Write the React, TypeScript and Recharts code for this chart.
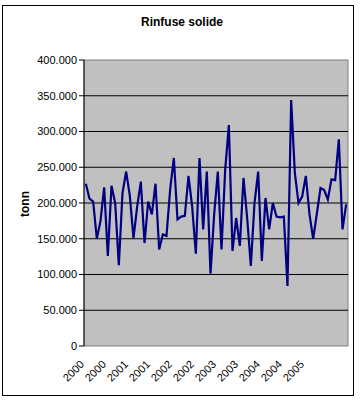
import React from 'react'
import { LineChart, Line, XAxis, YAxis, ReferenceArea, ReferenceLine } from 'recharts'

// ── Data ─────────────────────────────────────────────────────────────────────

const years = ['2000', '2001', '2002', '2003', '2004', '2005']

// monthly tonnage, Jan 2000 – Dec 2005 (thousands)
const values = [
  227, 206, 202, 150, 175, 222, 126, 224, 200, 113, 214, 244,
  210, 151, 195, 230, 144, 202, 184, 227, 135, 156, 154, 219,
  263, 177, 181, 182, 238, 195, 129, 263, 163, 244, 101, 184,
  244, 135, 246, 309, 133, 179, 140, 235, 179, 112, 200, 244,
  119, 207, 163, 200, 181, 180, 181, 84, 344, 242, 200, 209,
  238, 184, 150, 185, 221, 218, 205, 233, 232, 289, 163, 198,
].map(v => v * 1000)

const yTicks = [0, 50000, 100000, 150000, 200000, 250000, 300000, 350000, 400000]
const gridValues = [50000, 100000, 150000, 200000, 250000, 300000, 350000]
const labelTicks = [0, 6, 12, 18, 24, 30, 36, 42, 48, 54, 60]

const categories = years.flatMap(y => Array.from({ length: 12 }, () => y))
const tickMarks = Array.from({ length: values.length + 1 }, (_, i) => i - 0.5)
const data = values.map((v, i) => ({ idx: i, year: categories[i], value: v }))

const FONT = '"Liberation Sans", Arial, sans-serif'

const fmt = (v: number) => (v === 0 ? '0' : String(v).replace(/\B(?=(\d{3})+(?!\d))/g, '.'))

// small tick mark between months
function MarkTick({ x, y }: any) {
  return <line x1={x} y1={y} x2={x} y2={y + 4} stroke="#000" strokeWidth={1} />
}

function YearTick({ x, y, payload }: any) {
  const ax = x - 1
  const ay = y + 19
  return (
    <text
      x={ax}
      y={ay}
      transform={`rotate(-45, ${ax}, ${ay})`}
      textAnchor="end"
      fontSize={11}
      fontFamily={FONT}
      fill="#000"
    >
      {categories[payload.value]}
    </text>
  )
}

export default function App() {
  return (
    <div style={{ position: 'relative', width: 364, height: 401, background: '#fff' }}>
      <style>{'body{margin:0}'}</style>
      <div
        style={{
          position: 'absolute', left: 2, top: 5, width: 352, height: 391,
          border: '1px solid #000', boxSizing: 'border-box',
        }}
      />
      <div
        style={{
          position: 'absolute', left: 0, top: 15, width: 364, textAlign: 'center',
          fontFamily: FONT, fontWeight: 'bold', fontSize: 12, color: '#000',
        }}
      >
        Rinfuse solide
      </div>
      <div
        style={{
          position: 'absolute', left: 25, top: 204, transform: 'translate(-50%, -50%) rotate(-90deg)',
          fontFamily: FONT, fontWeight: 'bold', fontSize: 12, color: '#000',
        }}
      >
        tonn
      </div>
      <div style={{ position: 'absolute', left: 0, top: 0 }}>
        <LineChart width={364} height={401} data={data} margin={{ top: 60, right: 16, bottom: 0, left: 0 }}>
          <ReferenceArea xAxisId="ticks" y1={0} y2={400000} fill="#c0c0c0" fillOpacity={1} stroke="#808080" />
          {gridValues.map(v => (
            <ReferenceLine key={v} xAxisId="ticks" y={v} stroke="#000" strokeWidth={1} />
          ))}
          <Line
            xAxisId="ticks"
            type="linear"
            dataKey="value"
            stroke="#000080"
            strokeWidth={2.2}
            dot={false}
            isAnimationActive={false}
          />
          <XAxis
            xAxisId="ticks"
            dataKey="idx"
            type="number"
            domain={[-0.5, values.length - 0.5]}
            ticks={tickMarks}
            interval={0}
            tick={<MarkTick />}
            tickSize={0}
            tickMargin={0}
            tickLine={false}
            axisLine={{ stroke: '#000' }}
            height={0}
          />
          <XAxis
            xAxisId="labels"
            dataKey="idx"
            type="number"
            domain={[-0.5, values.length - 0.5]}
            ticks={labelTicks}
            interval={0}
            tick={<YearTick />}
            tickSize={0}
            tickMargin={0}
            tickLine={false}
            axisLine={false}
            height={55}
          />
          <YAxis
            width={84}
            domain={[0, 400000]}
            ticks={yTicks}
            interval={0}
            tickFormatter={fmt}
            tickSize={5}
            tickLine={{ stroke: '#000' }}
            axisLine={{ stroke: '#000' }}
            tick={{ fill: '#000', fontSize: 11, fontFamily: FONT }}
          />
        </LineChart>
      </div>
    </div>
  )
}
